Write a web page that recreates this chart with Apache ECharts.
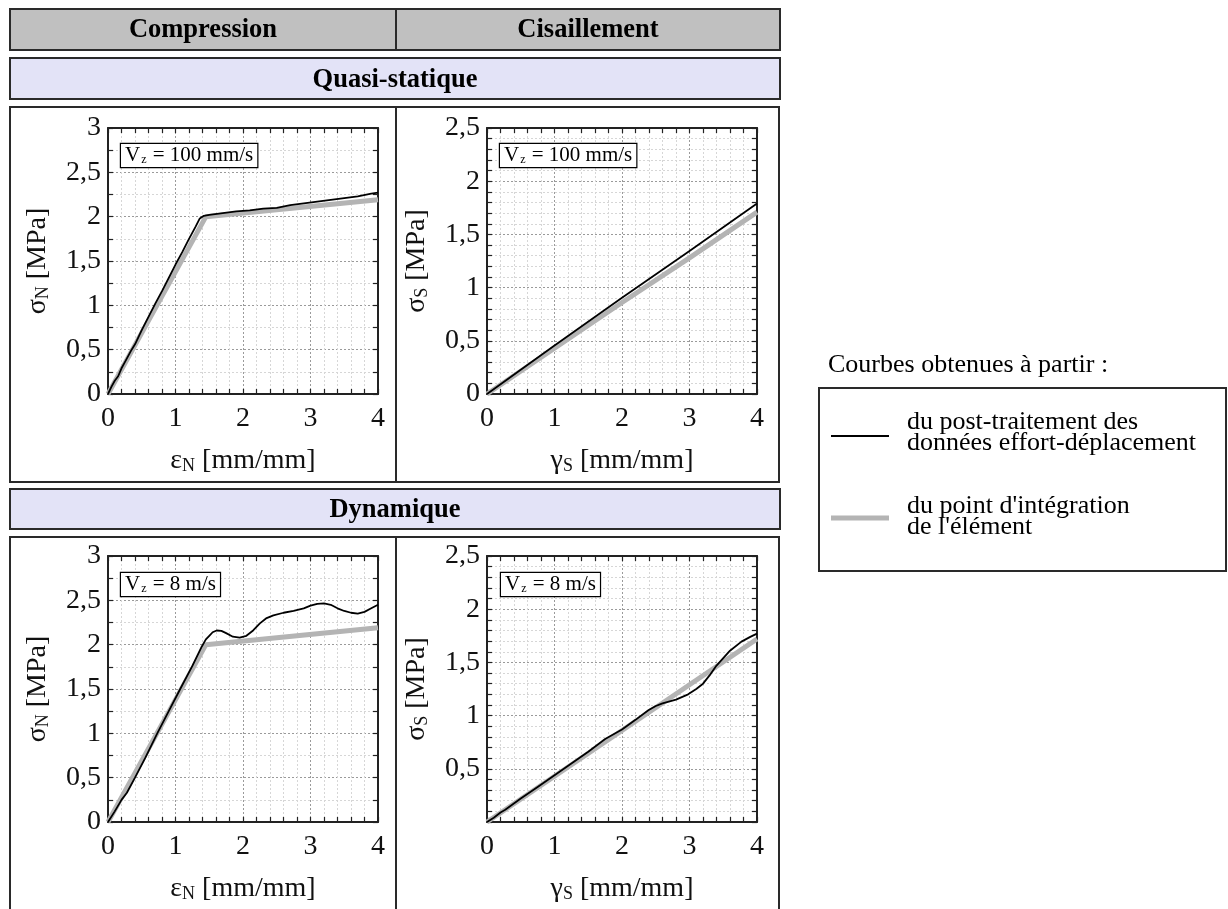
<!DOCTYPE html>
<html><head><meta charset="utf-8">
<script src="https://cdn.jsdelivr.net/npm/echarts@6/dist/echarts.min.js"></script>
<style>html,body{margin:0;padding:0;background:#fff}#c{width:1228px;height:909px}</style>
</head><body><div id="c"></div>
<script>
// ---------- DATA ----------
const xTickValues = [0, 1, 2, 3, 4];
const xTickLabels = ['0', '1', '2', '3', '4'];
const yTickValuesComp = [0, 0.5, 1, 1.5, 2, 2.5, 3];
const yTickLabelsComp = ['0', '0,5', '1', '1,5', '2', '2,5', '3'];
const yTickValuesShear = [0, 0.5, 1, 1.5, 2, 2.5];
const yTickLabelsShearQS = ['0', '0,5', '1', '1,5', '2', '2,5'];
const yTickLabelsShearDyn = ['', '0,5', '1', '1,5', '2', '2,5'];

// Quasi-statique, compression
const qsCompExpX = [0, 0.05, 0.1, 0.15, 0.2, 0.25, 0.3, 0.35, 0.4, 0.5, 0.6, 0.7, 0.8, 0.9, 1.0, 1.1, 1.2, 1.3, 1.36, 1.42, 1.5, 1.7, 1.9, 2.1, 2.3, 2.5, 2.7, 2.9, 3.1, 3.3, 3.5, 3.7, 3.9, 4.0];
const qsCompExpY = [0, 0.08, 0.15, 0.2, 0.29, 0.36, 0.43, 0.5, 0.56, 0.72, 0.87, 1.02, 1.16, 1.31, 1.46, 1.6, 1.75, 1.89, 1.98, 2.01, 2.02, 2.04, 2.06, 2.07, 2.09, 2.1, 2.13, 2.15, 2.17, 2.19, 2.21, 2.23, 2.26, 2.27];
const qsCompElemX = [0, 1.45, 4];
const qsCompElemY = [0, 2.0, 2.19];

// Quasi-statique, cisaillement
const qsShearExpX = [0, 1, 2, 3, 4];
const qsShearExpY = [0, 0.455, 0.905, 1.345, 1.79];
const qsShearElemX = [0, 1, 2, 3, 4];
const qsShearElemY = [0, 0.43, 0.86, 1.28, 1.71];

// Dynamique, compression
const dynCompExpX = [0, 0.1, 0.2, 0.28, 0.4, 0.55, 0.73, 0.9, 1.07, 1.25, 1.39, 1.45, 1.5, 1.55, 1.61, 1.68, 1.75, 1.85, 1.95, 2.05, 2.15, 2.25, 2.35, 2.45, 2.6, 2.75, 2.9, 3.0, 3.1, 3.2, 3.3, 3.4, 3.5, 3.6, 3.7, 3.8, 3.9, 4.0];
const dynCompExpY = [0, 0.12, 0.25, 0.33, 0.5, 0.72, 1.0, 1.25, 1.5, 1.76, 1.98, 2.06, 2.1, 2.14, 2.16, 2.155, 2.13, 2.09, 2.08, 2.1, 2.16, 2.24, 2.3, 2.33, 2.36, 2.38, 2.41, 2.44, 2.46, 2.465, 2.45, 2.41, 2.38, 2.36, 2.35, 2.37, 2.41, 2.45];
const dynCompElemX = [0, 1.45, 4];
const dynCompElemY = [0, 2.0, 2.19];

// Dynamique, cisaillement
const dynShearExpX = [0, 0.1, 0.2, 0.27, 0.5, 0.75, 1.0, 1.25, 1.5, 1.75, 2.0, 2.2, 2.39, 2.5, 2.6, 2.8, 2.98, 3.1, 3.2, 3.3, 3.4, 3.5, 3.6, 3.77, 3.9, 4.0];
const dynShearExpY = [0, 0.04, 0.09, 0.115, 0.22, 0.33, 0.44, 0.55, 0.66, 0.78, 0.87, 0.96, 1.05, 1.09, 1.115, 1.15, 1.2, 1.25, 1.3, 1.38, 1.47, 1.54, 1.61, 1.695, 1.74, 1.77];
const dynShearElemX = [0, 4];
const dynShearElemY = [0, 1.72];

const colHeaders = ['Compression', 'Cisaillement'];
const rowHeaders = ['Quasi-statique', 'Dynamique'];
const speedLabels = ['100 mm/s', '100 mm/s', '8 m/s', '8 m/s'];
const legendTitle = 'Courbes obtenues à partir :';
const legendLabels = ['du post-traitement des\ndonnées effort-déplacement', "du point d'intégration\nde l'élément"];

// ---------- CHART ----------
const FONT = "'Liberation Serif', 'Times New Roman', serif";
const pair = (xs, ys) => xs.map((x, i) => [x, ys[i]]);
const lookup = (vals, labs) => v => { const i = vals.findIndex(t => Math.abs(t - v) < 1e-6); return i < 0 ? '' : labs[i]; };

const grids = [
  { left: 108, top: 128, width: 270, height: 266 },
  { left: 487, top: 128, width: 270, height: 266 },
  { left: 108, top: 556, width: 270, height: 266 },
  { left: 487, top: 556, width: 270, height: 266 }
];

const nameRich = {
  a: { fontSize: 28, fontFamily: FONT, color: '#111' },
  s: { fontSize: 18, fontFamily: FONT, color: '#111', verticalAlign: 'bottom', lineHeight: 22 }
};

const panels = [
  { xName: '{a|ε}{s|N}{a| [mm/mm]}', yName: '{a|σ}{s|N}{a| [MPa]}', yMax: 3, yMinor: 2, yVals: yTickValuesComp, yLabs: yTickLabelsComp,
    exp: pair(qsCompExpX, qsCompExpY), elem: pair(qsCompElemX, qsCompElemY) },
  { xName: '{a|γ}{s|S}{a| [mm/mm]}', yName: '{a|σ}{s|S}{a| [MPa]}', yMax: 2.5, yMinor: 5, yVals: yTickValuesShear, yLabs: yTickLabelsShearQS,
    exp: pair(qsShearExpX, qsShearExpY), elem: pair(qsShearElemX, qsShearElemY) },
  { xName: '{a|ε}{s|N}{a| [mm/mm]}', yName: '{a|σ}{s|N}{a| [MPa]}', yMax: 3, yMinor: 2, yVals: yTickValuesComp, yLabs: yTickLabelsComp,
    exp: pair(dynCompExpX, dynCompExpY), elem: pair(dynCompElemX, dynCompElemY) },
  { xName: '{a|γ}{s|S}{a| [mm/mm]}', yName: '{a|σ}{s|S}{a| [MPa]}', yMax: 2.5, yMinor: 5, yVals: yTickValuesShear, yLabs: yTickLabelsShearDyn,
    exp: pair(dynShearExpX, dynShearExpY), elem: pair(dynShearElemX, dynShearElemY) }
];

const axLine = { show: true, onZero: false, lineStyle: { color: '#222', width: 2 } };
const tick = { show: true, inside: true, length: 5, lineStyle: { color: '#222', width: 1.2 } };
const major = { show: true, lineStyle: { color: '#9a9a9a', type: [2, 2], width: 1 } };
const minor = { show: true, lineStyle: { color: '#d6d6d6', type: [2, 2], width: 1 } };
const labelStyle = { fontSize: 28, fontFamily: FONT, color: '#111' };

const xAxes = [], yAxes = [], series = [];
panels.forEach((p, i) => {
  xAxes.push({
    type: 'value', gridIndex: i, position: 'bottom', min: 0, max: 4, interval: 1,
    axisLine: axLine, axisTick: tick,
    minorTick: { show: true, splitNumber: 5, length: 5, lineStyle: { color: '#222', width: 1.2 } },
    splitLine: major, minorSplitLine: minor,
    axisLabel: Object.assign({ margin: 11, formatter: lookup(xTickValues, xTickLabels) }, labelStyle),
    name: p.xName, nameLocation: 'middle', nameGap: 53,
    nameTextStyle: { rich: nameRich }
  });
  xAxes.push({
    type: 'value', gridIndex: i, position: 'top', min: 0, max: 4, interval: 1,
    axisLine: axLine, axisTick: tick,
    minorTick: { show: true, splitNumber: 5, length: 5, lineStyle: { color: '#222', width: 1.2 } },
    splitLine: { show: false }, axisLabel: { show: false }
  });
  yAxes.push({
    type: 'value', gridIndex: i, position: 'left', min: 0, max: p.yMax, interval: 0.5,
    axisLine: axLine, axisTick: tick,
    minorTick: { show: true, splitNumber: p.yMinor, length: 5, lineStyle: { color: '#222', width: 1.2 } },
    splitLine: major, minorSplitLine: minor,
    axisLabel: Object.assign({ margin: 7, formatter: lookup(p.yVals, p.yLabs) }, labelStyle),
    name: p.yName, nameLocation: 'middle', nameGap: 56, nameRotate: 90,
    nameTextStyle: { rich: nameRich }
  });
  yAxes.push({
    type: 'value', gridIndex: i, position: 'right', min: 0, max: p.yMax, interval: 0.5,
    axisLine: axLine, axisTick: tick,
    minorTick: { show: true, splitNumber: p.yMinor, length: 5, lineStyle: { color: '#222', width: 1.2 } },
    splitLine: { show: false }, axisLabel: { show: false }
  });
  series.push({
    type: 'line', xAxisIndex: 2 * i, yAxisIndex: 2 * i, data: p.elem, showSymbol: false,
    lineStyle: { color: '#b4b4b4', width: 5 }, z: 2, animation: false
  });
  series.push({
    type: 'line', xAxisIndex: 2 * i, yAxisIndex: 2 * i, data: p.exp, showSymbol: false,
    lineStyle: { color: '#000', width: 1.8 }, z: 3, animation: false
  });
});

const stroke = '#2a2a2a';
const hdrFont = 'bold 26.5px ' + FONT;
const graphics = [
  { type: 'rect', shape: { x: 10, y: 9, width: 770, height: 41 }, style: { fill: '#c0c0c0', stroke, lineWidth: 2 }, z: -1 },
  { type: 'line', shape: { x1: 396, y1: 9, x2: 396, y2: 50 }, style: { stroke, lineWidth: 2 } },
  { type: 'text', x: 203, y: 30, style: { text: colHeaders[0], font: hdrFont, fill: '#000', align: 'center', verticalAlign: 'middle' } },
  { type: 'text', x: 588, y: 30, style: { text: colHeaders[1], font: hdrFont, fill: '#000', align: 'center', verticalAlign: 'middle' } },
  { type: 'rect', shape: { x: 10, y: 58, width: 770, height: 41 }, style: { fill: '#e3e3f7', stroke, lineWidth: 2 }, z: -1 },
  { type: 'text', x: 395, y: 80, style: { text: rowHeaders[0], font: hdrFont, fill: '#000', align: 'center', verticalAlign: 'middle' } },
  { type: 'rect', shape: { x: 10, y: 107, width: 386, height: 375 }, style: { fill: 'none', stroke, lineWidth: 2 }, z: -1 },
  { type: 'rect', shape: { x: 396, y: 107, width: 383, height: 375 }, style: { fill: 'none', stroke, lineWidth: 2 }, z: -1 },
  { type: 'rect', shape: { x: 10, y: 489, width: 770, height: 40 }, style: { fill: '#e3e3f7', stroke, lineWidth: 2 }, z: -1 },
  { type: 'text', x: 395, y: 510, style: { text: rowHeaders[1], font: hdrFont, fill: '#000', align: 'center', verticalAlign: 'middle' } },
  { type: 'rect', shape: { x: 10, y: 537, width: 386, height: 400 }, style: { fill: 'none', stroke, lineWidth: 2 }, z: -1 },
  { type: 'rect', shape: { x: 396, y: 537, width: 383, height: 400 }, style: { fill: 'none', stroke, lineWidth: 2 }, z: -1 },
  // legend
  { type: 'text', x: 828, y: 365, style: { text: legendTitle, font: '26px ' + FONT, fill: '#000', align: 'left', verticalAlign: 'middle' } },
  { type: 'rect', shape: { x: 819, y: 388, width: 407, height: 183 }, style: { fill: 'none', stroke, lineWidth: 2 } },
  { type: 'line', shape: { x1: 831, y1: 436, x2: 889, y2: 436 }, style: { stroke: '#000', lineWidth: 2 } },
  { type: 'line', shape: { x1: 831, y1: 518, x2: 889, y2: 518 }, style: { stroke: '#b4b4b4', lineWidth: 5 } },
  { type: 'text', x: 907, y: 433, style: { text: legendLabels[0], font: '26px ' + FONT, lineHeight: 21, fill: '#000', align: 'left', verticalAlign: 'middle' } },
  { type: 'text', x: 907, y: 517, style: { text: legendLabels[1], font: '26px ' + FONT, lineHeight: 21, fill: '#000', align: 'left', verticalAlign: 'middle' } }
];

const vzPos = [[121, 144], [500, 144], [121, 573], [501, 573]];
vzPos.forEach((pos, i) => {
  graphics.push({
    type: 'text', x: pos[0], y: pos[1], z: 10,
    style: {
      text: '{a|V}{s|z}{a| = ' + speedLabels[i] + '}',
      rich: {
        a: { fontSize: 21, fontFamily: FONT, fill: '#000', lineHeight: 21, verticalAlign: 'middle' },
        s: { fontSize: 12, fontFamily: FONT, fill: '#000', lineHeight: 12, verticalAlign: 'bottom', padding: [0, 1, 0, 1] }
      },
      align: 'left', verticalAlign: 'top',
      backgroundColor: '#fff', borderColor: '#000', borderWidth: 1.2, padding: [1, 4, 1, 4]
    }
  });
});

const chart = echarts.init(document.getElementById('c'), null, { renderer: 'canvas' });
chart.setOption({
  animation: false,
  backgroundColor: '#fff',
  grid: grids,
  xAxis: xAxes,
  yAxis: yAxes,
  series: series,
  graphic: graphics
});
</script>
</body></html>
